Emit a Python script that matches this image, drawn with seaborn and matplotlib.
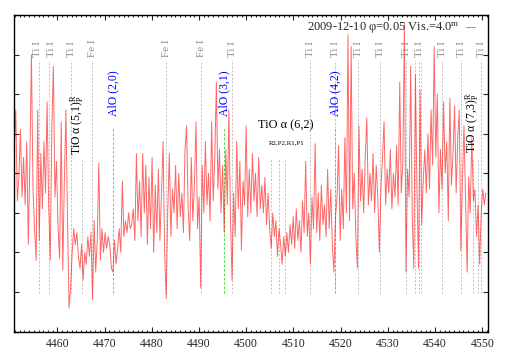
import numpy as np
import pandas as pd
import seaborn as sns
import matplotlib
matplotlib.use("Agg")
import matplotlib.pyplot as plt

# spectrum sampling (A) and relative flux
wl_start = 4450.84
wl_step = 0.332
flux = [
    4.6, 5.6, 3.3, 3.9, 5.1, 3.4, 4.4, 3.2, 4.8, 2.2, 4.3, 7.0, 3.6, 2.6, 1.8,
    5.6, 2.3, 4.5, 3.1, 4.8, 3.5, 5.8, 3.2, 1.8, 5.1, 6.7, 3.4, 4.3, 2.6, 1.85,
    5.3, 1.55, 3.8, 5.6, 2.9, 0.6, 1.1, 2.0, 2.6, 2.2, 2.5, 1.9, 1.6, 2.2, 1.3,
    2.0, 1.7, 2.4, 1.9, 2.5, 0.8, 2.8, 1.5, 2.3, 4.25, 1.8, 2.6, 2.0, 2.5, 2.1,
    2.4, 2.2, 1.6, 1.5, 2.3, 1.7, 2.1, 2.6, 2.0, 3.8, 2.4, 2.8, 2.5, 3.0, 2.6,
    2.7, 3.1, 2.3, 4.5, 2.8, 3.8, 2.4, 4.5, 3.0, 4.2, 2.2, 3.9, 2.6, 4.4, 2.0,
    3.7, 2.5, 4.1, 2.3, 3.5, 4.8, 2.0, 0.83, 3.1, 4.5, 2.4, 3.6, 3.0, 4.2, 2.6,
    4.0, 2.9, 3.5, 2.5, 4.6, 5.2, 3.1, 2.3, 4.4, 2.8, 3.7, 5.3, 2.6, 3.4, 1.1,
    4.2, 3.0, 4.8, 3.2, 4.0, 2.8, 5.3, 3.3, 4.4, 6.3, 3.6, 4.6, 3.0, 4.2, 2.5,
    4.6, 3.2, 5.6, 2.9, 1.3, 3.5, 2.4, 4.8, 3.1, 4.3, 2.05, 3.8, 3.2, 5.2, 2.9,
    4.1, 3.0, 4.5, 3.3, 4.0, 2.9, 4.4, 3.1, 3.7, 3.0, 3.9, 2.7, 3.5, 2.6, 2.1,
    3.0, 2.4, 2.8, 1.9, 2.6, 2.2, 1.7, 2.4, 1.9, 2.5, 2.0, 2.7, 2.2, 2.9, 2.1,
    3.1, 2.3, 2.8, 2.0, 3.3, 2.5, 4.3, 2.4, 3.0, 1.7, 3.4, 2.6, 4.75, 2.5, 3.5,
    2.3, 3.7, 2.7, 3.2, 2.4, 4.1, 2.6, 3.6, 2.2, 1.5, 2.9, 3.4, 4.7, 2.3, 3.6,
    2.6, 4.9, 3.0, 7.5, 2.8, 7.2, 3.1, 4.0, 2.4, 1.6, 5.2, 3.3, 4.1, 3.0, 4.4,
    5.4, 3.2, 4.0, 3.3, 4.5, 3.0, 4.2, 3.4, 2.0, 3.6, 4.4, 5.3, 3.2, 4.1, 3.5,
    4.6, 3.1, 4.0, 3.4, 4.7, 3.2, 6.3, 3.5, 4.3, 7.8, 1.5, 4.1, 3.4, 6.7, 2.9,
    1.6, 6.5, 3.6, 1.6, 6.1, 2.7, 3.8, 4.6, 3.5, 5.0, 3.6, 5.6, 4.2, 7.2, 4.4,
    6.0, 3.0, 4.6, 3.6, 5.8, 4.0, 4.8, 2.8, 5.9, 3.7, 4.5, 5.7, 3.5, 4.9, 5.6,
    2.05, 3.8, 5.2, 3.4, 1.5, 3.9, 3.0, 4.9, 3.3, 3.6, 2.4, 3.2, 1.7, 3.0, 3.6,
    3.2, 3.5,
]

# line identifications (A)
ti_lines = [4456.19, 4458.31, 4462.90, 4497.06, 4513.58, 4518.81, 4523.74,
            4528.34, 4533.85, 4536.66, 4541.47, 4545.56, 4549.79]
ti_unlabelled = [4535.69, 4536.96]
fe_lines = [4467.41, 4483.02, 4490.50]
alo_lines = [4471.86, 4495.30, 4518.81]
alo_names = ['AlO (2,0)', 'AlO (3,1)', 'AlO (4,2)']
tio51_lines = [4465.17]
tio62_lines = [4505.26, 4506.89, 4508.16]
tio73_lines = [4548.03, 4549.03]

wl = wl_start + wl_step * np.arange(len(flux))
df = pd.DataFrame({'wavelength': wl, 'flux': flux})

sns.set_style('ticks')
plt.rcParams['font.family'] = ['Liberation Serif', 'DejaVu Serif']
plt.rcParams['mathtext.fontset'] = 'custom'
plt.rcParams['mathtext.rm'] = 'Liberation Serif'
plt.rcParams['mathtext.it'] = 'Liberation Serif:italic'

fig = plt.figure(figsize=(5.09, 3.56), dpi=100)
ax = fig.add_axes([14 / 509, 1 - 331.5 / 356, 473.7 / 509, 316.5 / 356])

grey_line = '#b8b8b8'
grey_text = '#8c8c8c'
dash = (0, (2.5, 2))

# Ti I and Fe I
ax.vlines(ti_lines + ti_unlabelled + fe_lines, 0.97, 6.86, colors=grey_line,
          linestyles=dash, lw=0.6)
for i, x in enumerate(ti_lines):
    # the first two labels sit very close, nudge them apart a little
    nudge = {0: -0.35, 1: 0.35}.get(i, 0)
    ax.text(x + nudge, 6.94, 'Ti I', rotation=90, ha='center', va='bottom',
            color=grey_text, fontsize=8)
for x in fe_lines:
    ax.text(x, 6.94, 'Fe I', rotation=90, ha='center', va='bottom',
            color=grey_text, fontsize=8)

# TiO bands
ax.vlines(tio51_lines + tio62_lines + tio73_lines, 0.97, 4.38,
          colors=grey_line, linestyles=dash, lw=0.6)

# AlO
ax.vlines(alo_lines, 0.97, 5.16, colors='#44dd44', linestyles=dash, lw=0.7)

sns.lineplot(data=df, x='wavelength', y='flux', ax=ax, color='#ff0000',
             lw=0.7, alpha=0.6, estimator=None,
             label='2009-12-10 φ=0.05 Vis.=4.0$^{\\rm m}$')

for x, name in zip(alo_lines, alo_names):
    ax.text(x, 5.44, name, rotation=90, ha='center', va='bottom',
            color='#0000ff', fontsize=8.5)

ax.text(4464.2, 4.46, 'TiO α (5,1)$^{\\rm R}_{\\rm P}$', rotation=90,
        ha='center', va='bottom', color='black', fontsize=8.5)
ax.text(4547.9, 4.5, 'TiO α (7,3)$^{\\rm R}_{\\rm P}$', rotation=90,
        ha='center', va='bottom', color='black', fontsize=8.5)
ax.text(4508.3, 5.22, 'TiO α (6,2)', ha='center', va='center',
        color='black', fontsize=8.8)
ax.text(4508.6, 4.76, 'R2,P2,R1,P1', ha='center', va='center',
        color='black', fontsize=5)

ax.set_xlim(4450.8, 4551.15)
ax.set_ylim(0, 8)
ax.set_xticks(np.arange(4460, 4551, 10))
ax.set_xticks(np.arange(4451, 4552, 1), minor=True)
ax.set_yticks(np.arange(0, 9, 1))
ax.set_yticklabels([])
ax.set_xlabel('')
ax.set_ylabel('')
ax.tick_params(which='both', direction='in', top=True, right=True,
               labelsize=8.5, pad=5, width=0.8)
ax.tick_params(which='major', length=3.5)
ax.tick_params(which='minor', length=1.6)
for s in ax.spines.values():
    s.set_linewidth(1.0)
    s.set_color('black')

leg = ax.legend(loc='upper right', bbox_to_anchor=(0.978, 0.99),
                frameon=False, markerfirst=False, handlelength=0.7,
                handletextpad=0.5, borderaxespad=0, borderpad=0.2,
                fontsize=9)

fig.savefig('out.png', dpi=100)
